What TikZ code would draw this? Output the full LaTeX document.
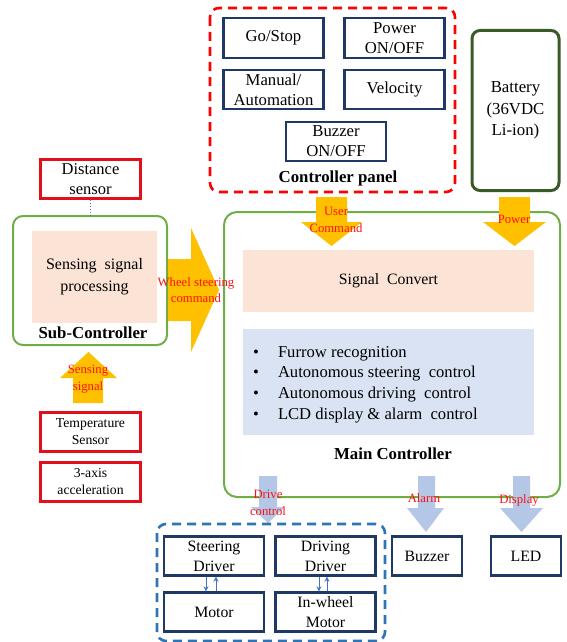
\documentclass[tikz,border=0pt]{standalone}
\usepackage{fontspec}
\setmainfont{Liberation Serif}
\usetikzlibrary{arrows.meta}
\definecolor{boxred}{HTML}{E3101B}
\definecolor{dashred}{HTML}{FF0000}
\definecolor{navy}{HTML}{1F3864}
\definecolor{lgreen}{HTML}{70AD47}
\definecolor{dgreen}{HTML}{3A5A28}
\definecolor{gold}{HTML}{FFC000}
\definecolor{pinkfill}{HTML}{FBE3D5}
\definecolor{bluefill}{HTML}{DAE3F3}
\definecolor{arrowblue}{HTML}{B4C7E7}
\definecolor{dashblue}{HTML}{2E75B6}
\definecolor{smallblue}{HTML}{4472C4}
\definecolor{lblred}{HTML}{FF1010}
\tikzset{
  redbox/.style={draw=boxred, line width=2.6pt, minimum width=100pt, align=center, inner sep=1pt},
  navybox/.style={draw=navy, line width=2.4pt, align=center, inner sep=1pt, font=\fontsize{15.8}{20}\selectfont},
  panelbox/.style={navybox, font=\fontsize{16.7}{20}\selectfont},
  bigtxt/.style={font=\fontsize{15.8}{20}\selectfont},
  smalltxt/.style={font=\fontsize{13.7}{17}\selectfont},
  lbl/.style={text=lblred, align=center, inner sep=0pt, font=\fontsize{12.7}{16.5}\selectfont},
  boldlbl/.style={font=\bfseries\fontsize{16.8}{19}\selectfont, inner sep=0pt},
  goldarrow/.style={fill=gold, draw=none},
  bluearrow/.style={fill=arrowblue, draw=none},
  smallarrow/.style={draw=smallblue, line width=0.9pt, -{Stealth[length=5pt,width=5pt]}},
}
\begin{document}
\begin{tikzpicture}[x=1pt,y=-1pt]
\useasboundingbox (0,0) rectangle (566,642);

% ---------- Controller panel ----------
\draw[dashred, line width=2.6pt, dash pattern=on 9pt off 6pt, rounded corners=9pt] (210,8) rectangle (455,192);
\node[panelbox, minimum width=100pt, minimum height=39.5pt] (go) at (273.5,38) {Go/Stop};
\node[panelbox, minimum width=100pt, minimum height=39.5pt] (pow) at (394.5,38) {Power\\ON/OFF};
\node[panelbox, minimum width=100pt, minimum height=38.5pt] (man) at (273.5,89.5) {Manual/\\Automation};
\node[panelbox, minimum width=100pt, minimum height=38.5pt] (vel) at (394.5,89.5) {Velocity};
\node[panelbox, minimum width=99.5pt, minimum height=38.5pt] (buzsw) at (336,141.5) {Buzzer\\ON/OFF};
\node[boldlbl] (cpanel) at (338,178) {Controller panel};

% ---------- Battery ----------
\node[draw=dgreen, line width=3pt, rounded corners=8pt, minimum width=87pt, minimum height=160pt, align=center, inner sep=0pt, font=\fontsize{16.8}{21.5}\selectfont] (bat) at (515.5,110.5) {Battery\\(36VDC\\Li-ion)};

% ---------- Main controller ----------
\node[draw=lgreen, line width=2pt, rounded corners=13pt, minimum width=336pt, minimum height=285pt, inner sep=0pt] (main) at (392,354.5) {};
\fill[gold] (316,197) -- (347,197) -- (347,222) -- (362,222) -- (331.5,246) -- (301,222) -- (316,222) -- cycle;
\fill[gold] (499,197) -- (530,197) -- (530,222) -- (546,222) -- (514.5,246) -- (483,222) -- (499,222) -- cycle;
\node[lbl] (ucmd) at (336,220) {User\\Command};
\node[lbl] (plbl) at (514,219) {Power};
\node[fill=pinkfill, minimum width=291pt, minimum height=62pt, inner sep=0pt, bigtxt] (conv) at (388.5,281) {Signal\ \ Convert};
\node[fill=bluefill, minimum width=291pt, minimum height=106pt, inner sep=0pt] (func) at (388.5,382) {};
\node[anchor=north west, align=left, inner sep=0pt, font=\fontsize{16.6}{20.7}\selectfont] (funclist) at (253,346)
 {\textbullet\hspace{19pt}Furrow recognition\\
  \textbullet\hspace{19pt}Autonomous steering\ \ control\\
  \textbullet\hspace{19pt}Autonomous driving\ \ control\\
  \textbullet\hspace{19pt}LCD display \& alarm\ \ control};
\node[boldlbl] (mclbl) at (393,454) {Main Controller};

% ---------- bottom arrows ----------
\fill[arrowblue] (259,476) -- (277,476) -- (277,507) -- (285,507) -- (268,523) -- (251,507) -- (259,507) -- cycle;
\fill[arrowblue] (418,476) -- (435,476) -- (435,508) -- (444,508) -- (426,532) -- (407,508) -- (418,508) -- cycle;
\fill[arrowblue] (513,476) -- (530,476) -- (530,508) -- (543,508) -- (521.5,532) -- (500,508) -- (513,508) -- cycle;
\node[lbl] (dlbl) at (268,503) {Drive\\control};
\node[lbl] (albl) at (424,498) {Alarm};
\node[lbl] (displbl) at (519,500) {Display};

% ---------- drive group ----------
\draw[dashblue, line width=2.6pt, dash pattern=on 9pt off 6pt, rounded corners=9pt] (157,524) rectangle (385,641);
\node[navybox, minimum width=99.5pt, minimum height=39pt] (steer) at (214,556) {Steering\\Driver};
\node[navybox, minimum width=100pt, minimum height=39pt] (drive) at (325.5,556) {Driving\\Driver};
\node[navybox, minimum width=99.5pt, minimum height=39pt] (motor) at (214,612) {Motor};
\node[navybox, minimum width=100pt, minimum height=39pt] (iwm) at (325.5,612) {In-wheel\\Motor};
\draw[smallarrow] ([xshift=-8pt]steer.south) -- ([xshift=-8pt]motor.north);
\draw[smallarrow] ([xshift=2pt]motor.north) -- ([xshift=2pt]steer.south);
\draw[smallarrow] ([xshift=-6.5pt]drive.south) -- ([xshift=-6.5pt]iwm.north);
\draw[smallarrow] ([xshift=1.5pt]iwm.north) -- ([xshift=1.5pt]drive.south);
\node[navybox, minimum width=69.5pt, minimum height=39pt] (buz) at (427,556) {Buzzer};
\node[navybox, minimum width=70pt, minimum height=39pt] (led) at (526,556) {LED};

% ---------- left side ----------
\node[redbox, minimum height=39pt, font=\fontsize{16.5}{20}\selectfont] (dist) at (90.5,179) {Distance\\sensor};
\node[draw=lgreen, line width=2pt, rounded corners=10pt, minimum width=154pt, minimum height=129pt, inner sep=0pt] (sub) at (90,280.5) {};
\draw[smallblue, line width=1pt, dotted] (dist.south) -- (sub.north -| dist.south);
\node[fill=pinkfill, minimum width=125pt, minimum height=92pt, inner sep=0pt, align=center, font=\fontsize{16}{22}\selectfont] (proc) at (94.5,277) {Sensing\ \ signal\\processing};
\node[boldlbl] (sublbl) at (93,333) {Sub-Controller};
\fill[gold] (168,259) -- (191,259) -- (191,228) -- (219,290) -- (191,352) -- (191,321) -- (168,321) -- cycle;
\node[lbl] (wsc) at (196,290) {Wheel steering\\command};
\fill[gold] (73,403) -- (103,403) -- (103,378) -- (117,378) -- (88.5,352) -- (60,378) -- (73,378) -- cycle;
\node[lbl] (sslbl) at (88,379) {Sensing\\signal};
\node[redbox, minimum height=39pt, smalltxt] (temp) at (90.5,432) {Temperature\\Sensor};
\node[redbox, minimum height=39pt, smalltxt] (acc) at (90.5,482) {3-axis\\acceleration};
\end{tikzpicture}
\end{document}
